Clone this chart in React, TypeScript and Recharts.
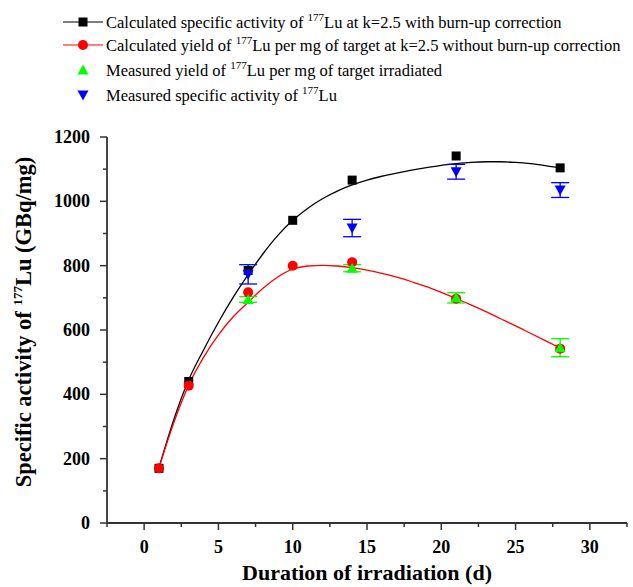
import React from 'react';
import { ComposedChart, Line, Scatter, XAxis, YAxis, ErrorBar } from 'recharts';

// Fitted curves
const curveDays = [1, 2, 3, 4, 5, 6, 7, 8, 9, 10, 11, 12, 13, 14, 15, 16, 17, 18, 19, 20, 21, 22, 23, 24, 25, 26, 27, 28];
const curveWithBurnup = [172, 322, 445, 538, 624, 702, 772, 837, 894, 941, 978, 1008, 1032, 1051, 1066, 1078, 1088, 1097, 1105, 1112, 1117, 1121, 1123, 1123, 1121, 1117, 1111, 1104];
const curveWithoutBurnup = [172, 312, 429, 515, 585, 641, 686, 730, 765, 789, 799, 801, 799, 794, 786, 776, 764, 750, 735, 717, 698, 678, 657, 635, 613, 590, 567, 544];

// Calculated points
const calcDays = [1, 3, 7, 10, 14, 21, 28];
const calcSpecific = [170, 440, 785, 941, 1066, 1141, 1104];
const calcYield = [170, 427, 717, 800, 811, 697, 542];

// Measured points
const measDays = [7, 14, 21, 28];
const measYield = [695, 792, 700, 545];
const measYieldErr = [9, 11, 16, 28];
const measSpecific = [773, 917, 1092, 1035];
const measSpecificErr = [30, 27, 23, 23];

const xTicks = [-2.5, 0, 2.5, 5, 7.5, 10, 12.5, 15, 17.5, 20, 22.5, 25, 27.5, 30, 32.5];
const yTicks = [0, 100, 200, 300, 400, 500, 600, 700, 800, 900, 1000, 1100, 1200];

const legendLabels = [
  ['Calculated specific activity of ', '177', 'Lu at k=2.5 with burn-up correction'],
  ['Calculated yield of ', '177', 'Lu per mg of target at k=2.5 without burn-up correction'],
  ['Measured yield of ', '177', 'Lu per mg of target irradiated'],
  ['Measured specific activity of ', '177', 'Lu'],
];

const FONT = '"Liberation Serif", "Times New Roman", serif';
const AXIS = '#333';
const serif = { fontFamily: FONT };

const burnupCurve = curveDays.map((d, i) => ({ x: d, y: curveWithBurnup[i] }));
const noBurnupCurve = curveDays.map((d, i) => ({ x: d, y: curveWithoutBurnup[i] }));
const specificPts = calcDays.map((d, i) => ({ x: d, y: calcSpecific[i] }));
const yieldPts = calcDays.map((d, i) => ({ x: d, y: calcYield[i] }));
const measYieldPts = measDays.map((d, i) => ({ x: d, y: measYield[i], err: measYieldErr[i] }));
const measSpecificPts = measDays.map((d, i) => ({ x: d, y: measSpecific[i], err: measSpecificErr[i] }));

const XTick = (props: any) => {
  const { x, y, payload } = props;
  const v = payload.value;
  const major = Math.abs(v % 5) < 1e-9;
  return (
    <g>
      <line x1={x} x2={x} y1={y} y2={y + (major ? 7 : 4)} stroke={AXIS} strokeWidth={1.5} />
      {major && (
        <text x={x} y={y + 30} textAnchor="middle" style={serif} fontWeight="bold" fontSize={18} fill="#000">
          {v}
        </text>
      )}
    </g>
  );
};

const YTick = (props: any) => {
  const { x, y, payload } = props;
  const v = payload.value;
  const major = v % 200 === 0;
  return (
    <g>
      <line x1={x} x2={x - (major ? 7 : 4)} y1={y} y2={y} stroke={AXIS} strokeWidth={1.5} />
      {major && (
        <text x={x - 17} y={y + 6} textAnchor="end" style={serif} fontWeight="bold" fontSize={18} fill="#000">
          {v}
        </text>
      )}
    </g>
  );
};

const Square = (props: any) => {
  const { cx, cy } = props;
  if (cx == null || cy == null) return null;
  return <rect x={cx - 4.5} y={cy - 4.5} width={9} height={9} fill="#000" />;
};
const Dot = (props: any) => {
  const { cx, cy } = props;
  if (cx == null || cy == null) return null;
  return <circle cx={cx} cy={cy} r={5} fill="#ff0000" />;
};
const UpTri = (props: any) => {
  const { cx, cy } = props;
  if (cx == null || cy == null) return null;
  return <polygon points={`${cx - 5.5},${cy + 4.5} ${cx + 5.5},${cy + 4.5} ${cx},${cy - 5.5}`} fill="#00ff00" />;
};
const DownTri = (props: any) => {
  const { cx, cy } = props;
  if (cx == null || cy == null) return null;
  return <polygon points={`${cx - 5.5},${cy - 4.5} ${cx + 5.5},${cy - 4.5} ${cx},${cy + 5.5}`} fill="#0000ff" />;
};

const Legend = () => (
  <svg width={633} height={110} style={{ position: 'absolute', left: 0, top: 0 }}>
    {legendLabels.map((parts, i) => {
      const cy = [22, 45, 70, 95][i];
      return (
        <g key={i}>
          {i === 0 && (
            <g>
              <line x1={63} x2={103} y1={cy} y2={cy} stroke="#000" strokeWidth={1.2} />
              <rect x={78.5} y={cy - 4.5} width={9} height={9} fill="#000" />
            </g>
          )}
          {i === 1 && (
            <g>
              <line x1={63} x2={103} y1={cy} y2={cy} stroke="#ff0000" strokeWidth={1.2} />
              <circle cx={83} cy={cy} r={5} fill="#ff0000" />
            </g>
          )}
          {i === 2 && (
            <polygon points={`${77.5},${cy + 4.5} ${88.5},${cy + 4.5} ${83},${cy - 5.5}`} fill="#00ff00" />
          )}
          {i === 3 && (
            <polygon points={`${77.5},${cy - 4.5} ${88.5},${cy - 4.5} ${83},${cy + 5.5}`} fill="#0000ff" />
          )}
          <text x={106} y={cy + 6} style={serif} fontSize={16.5} fill="#000">
            {parts[0]}
            <tspan dy={-7} fontSize={11}>{parts[1]}</tspan>
            <tspan dy={7}>{parts[2]}</tspan>
          </text>
        </g>
      );
    })}
  </svg>
);

const YLabel = (props: any) => {
  const cx = 31;
  const cy = 322;
  return (
    <text
      x={cx}
      y={cy}
      transform={`rotate(-90 ${cx} ${cy})`}
      textAnchor="middle"
      style={serif}
      fontWeight="bold"
      fontSize={22.5}
      fill="#000"
    >
      Specific activity of <tspan dy={-9} fontSize={13}>177</tspan>
      <tspan dy={9}>Lu (GBq/mg)</tspan>
    </text>
  );
};

const XLabel = (props: any) => (
  <text x={367} y={580} textAnchor="middle" style={serif} fontWeight="bold" fontSize={22} fill="#000">
    Duration of irradiation (d)
  </text>
);

export default function App() {
  return (
    <div style={{ position: 'absolute', left: 0, top: 0, width: 633, height: 587, background: '#fff' }}>
      <ComposedChart width={633} height={587} margin={{ top: 137, right: 6, left: 0, bottom: 0 }}>
        <XAxis
          type="number"
          dataKey="x"
          domain={[-2.5, 32.5]}
          ticks={xTicks}
          interval={0}
          allowDataOverflow
          height={64}
          tickSize={0}
          tickMargin={0}
          tickLine={false}
          tick={<XTick />}
          axisLine={{ stroke: AXIS, strokeWidth: 1.8 }}
          label={<XLabel />}
        />
        <YAxis
          type="number"
          dataKey="y"
          domain={[0, 1200]}
          ticks={yTicks}
          interval={0}
          allowDataOverflow
          width={107}
          tickSize={0}
          tickMargin={0}
          tickLine={false}
          tick={<YTick />}
          axisLine={{ stroke: AXIS, strokeWidth: 1.8 }}
          label={<YLabel />}
        />
        <Line data={burnupCurve} dataKey="y" type="monotone" stroke="#000" strokeWidth={1.3} dot={false} activeDot={false} isAnimationActive={false} />
        <Line data={noBurnupCurve} dataKey="y" type="monotone" stroke="#ff0000" strokeWidth={1.3} dot={false} activeDot={false} isAnimationActive={false} />
        <Scatter data={specificPts} dataKey="y" shape={<Square />} isAnimationActive={false} />
        <Scatter data={yieldPts} dataKey="y" shape={<Dot />} isAnimationActive={false} />
        <Scatter data={measYieldPts} dataKey="y" shape={<UpTri />} isAnimationActive={false}>
          <ErrorBar dataKey="err" direction="y" width={9} stroke="#00ff00" strokeWidth={1.3} />
        </Scatter>
        <Scatter data={measSpecificPts} dataKey="y" shape={<DownTri />} isAnimationActive={false}>
          <ErrorBar dataKey="err" direction="y" width={9} stroke="#0000ff" strokeWidth={1.3} />
        </Scatter>
      </ComposedChart>
      <Legend />
    </div>
  );
}
